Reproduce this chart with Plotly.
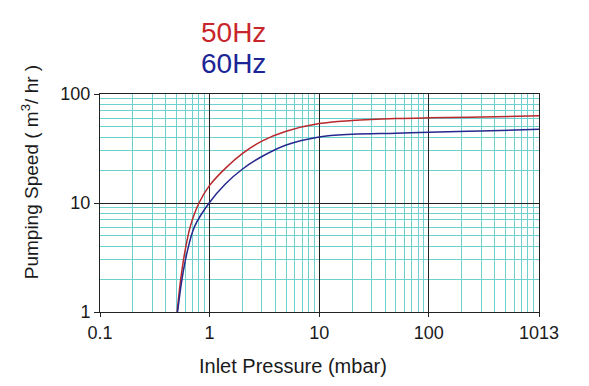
import numpy as np
import plotly.graph_objects as go

# 50 Hz curve (inlet pressure mbar, pumping speed m3/hr)
pressure_50 = [0.506, 0.545, 0.593, 0.667, 0.80, 1.0, 1.4, 2.0, 3.0, 5.0, 10, 20, 50, 100, 300, 1013]
speed_50 = [1.0, 2.0, 3.5, 6.1, 10.0, 14.5, 20.9, 28.5, 37.0, 45.5, 53.5, 57.0, 59.5, 60.5, 61.5, 63.0]

# 60 Hz curve
pressure_60 = [0.51, 0.56, 0.622, 0.73, 0.99, 1.4, 2.0, 3.0, 5.0, 10, 20, 50, 100, 300, 1013]
speed_60 = [1.0, 2.0, 3.5, 6.1, 10.0, 15.0, 20.5, 26.7, 34.1, 40.4, 42.7, 43.7, 44.6, 45.8, 47.4]

x_ticks = [0.1, 1, 10, 100, 1013]
x_ticktext = ["0.1", "1", "10", "100", "1013"]
y_ticks = [1, 10, 100]
y_ticktext = ["1", "10", "100"]

x_minor = [m * 10.0 ** d for d in range(-1, 3) for m in range(2, 10)]
y_minor = [m * 10.0 ** d for d in range(0, 2) for m in range(2, 10)]

RED = "#b8282c"
BLUE = "#25288c"
CYAN = "#6fd0d0"
FONT = "Liberation Sans, Arial, sans-serif"

fig = go.Figure()
fig.add_trace(go.Scatter(x=pressure_50, y=speed_50, mode="lines",
                         line=dict(color=RED, width=1.5, shape="spline", smoothing=1.0),
                         showlegend=False, hoverinfo="skip"))
fig.add_trace(go.Scatter(x=pressure_60, y=speed_60, mode="lines",
                         line=dict(color=BLUE, width=1.5, shape="spline", smoothing=1.0),
                         showlegend=False, hoverinfo="skip"))

# page body has an 8px default margin: compensate in size and margins
fig.update_layout(
    width=581, height=378,
    margin=dict(l=92, r=50, t=86, b=74),
    paper_bgcolor="white", plot_bgcolor="white",
    font=dict(family=FONT, size=18, color="#1a1a1a"),
    xaxis=dict(type="log", range=[-1, np.log10(1013)],
               tickmode="array", tickvals=x_ticks, ticktext=x_ticktext,
               showgrid=True, gridcolor="#222222", gridwidth=1,
               showline=True, linecolor="#222222", linewidth=1, mirror=True,
               ticks="outside", ticklen=4, tickcolor="#222222",
               minor=dict(tickvals=x_minor, showgrid=True, gridcolor=CYAN, gridwidth=1),
               zeroline=False),
    yaxis=dict(type="log", range=[0, 2],
               tickmode="array", tickvals=y_ticks, ticktext=y_ticktext,
               showgrid=True, gridcolor="#222222", gridwidth=1,
               showline=True, linecolor="#222222", linewidth=1, mirror=True,
               ticks="outside", ticklen=5, tickcolor="#222222",
               minor=dict(tickvals=y_minor, showgrid=True, gridcolor=CYAN, gridwidth=1),
               zeroline=False),
    annotations=[
        dict(text="50Hz", xref="paper", yref="paper", x=0.305, y=1.28,
             xanchor="center", yanchor="middle", showarrow=False,
             font=dict(family=FONT, size=28, color="#c8262c")),
        dict(text="60Hz", xref="paper", yref="paper", x=0.305, y=1.142,
             xanchor="center", yanchor="middle", showarrow=False,
             font=dict(family=FONT, size=28, color="#1c2596")),
        dict(text="Inlet Pressure (mbar)", xref="paper", yref="paper", x=0.44, y=-0.248,
             xanchor="center", yanchor="middle", showarrow=False,
             font=dict(family=FONT, size=20, color="#1a1a1a")),
        dict(text="Pumping Speed ( m<sup>3</sup>/ hr )", xref="paper", yref="paper",
             x=-0.159, y=0.642, textangle=-90,
             xanchor="center", yanchor="middle", showarrow=False,
             font=dict(family=FONT, size=19, color="#1a1a1a")),
    ],
)

fig.write_html("out.html")
